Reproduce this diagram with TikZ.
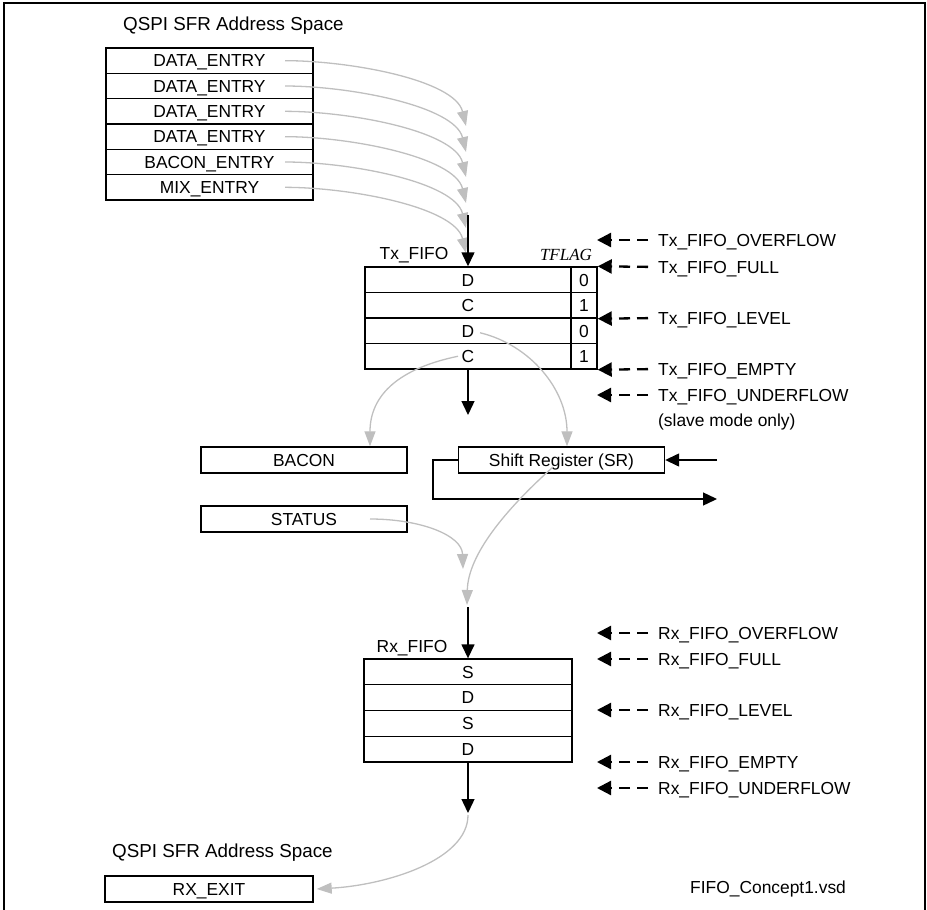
\documentclass[tikz,border=0pt]{standalone}
\usepackage{fontspec}
\setmainfont{Liberation Sans}
\newfontfamily\tflagfont{Liberation Serif}
\usetikzlibrary{arrows.meta,calc}
\definecolor{flowgray}{HTML}{BFBFBF}
\begin{document}
\begin{tikzpicture}[x=1pt,y=-1pt,
  lbl/.style={font=\fontsize{17.4}{20}\selectfont, inner sep=0pt, text height=12.5pt, text depth=0pt},
  ttl/.style={font=\fontsize{18.8}{22}\selectfont, inner sep=0pt, text height=13.5pt, text depth=0pt, anchor=west},
  cell/.style={draw, line width=1.4pt, inner sep=0pt, font=\fontsize{17.4}{20}\selectfont, text height=12.5pt, text depth=0pt},
  srow/.style={cell, minimum width=207pt, minimum height=25.33pt},
  trow/.style={cell, minimum width=206pt, minimum height=25.5pt},
  fcell/.style={cell, minimum width=26pt, minimum height=25.5pt},
  rrow/.style={cell, minimum width=208pt, minimum height=25.75pt},
  reg/.style={cell, minimum width=206pt, minimum height=26pt},
  gar/.style={draw=flowgray, line width=1.3pt, -{Triangle[length=15pt,width=11pt]}},
  bar/.style={draw=black, line width=1.4pt, -{Triangle[length=14pt,width=13pt]}},
  flg/.style={draw=black, line width=2.3pt, dash pattern=on 11pt off 7pt, shorten <=10pt, -{Triangle[length=14pt,width=14pt]}}
]
\useasboundingbox (0,0) rectangle (927,910);
% frame
\draw[line width=1.5pt] (4,910) -- (4,3) -- (925,3) -- (925,910);

% ---------- top address space ----------
\node[ttl] (qspitop) at (123,24) {QSPI SFR Address Space};
\node[srow] (d1) at (209.5,60.67) {DATA\_ENTRY};
\node[srow] (d2) at (209.5,86) {DATA\_ENTRY};
\node[srow] (d3) at (209.5,111.33) {DATA\_ENTRY};
\node[srow] (d4) at (209.5,136.67) {DATA\_ENTRY};
\node[srow] (d5) at (209.5,162) {BACON\_ENTRY};
\node[srow] (d6) at (209.5,187.33) {MIX\_ENTRY};

\coordinate (e1) at (466,126);
\coordinate (e2) at (466,152);
\coordinate (e3) at (466,177);
\coordinate (e4) at (466,203);
\coordinate (e5) at (466,228);
\coordinate (e6) at (466,253);
\foreach \r in {1,...,6}{
  \draw[gar] ($(d\r.center)+(75.5,0)$) .. controls +(65,0) and +(-11,-46) .. (e\r);
}

% ---------- Tx FIFO ----------
\coordinate (txin) at (468,215);
\node[trow] (tx1) at (468,279.75) {D};
\node[trow] (tx2) at (468,305.25) {C};
\node[trow] (tx3) at (468,330.75) {D};
\node[trow] (tx4) at (468,356.25) {C};
\node[fcell] (tf1) at (584,279.75) {0};
\node[fcell] (tf2) at (584,305.25) {1};
\node[fcell] (tf3) at (584,330.75) {0};
\node[fcell] (tf4) at (584,356.25) {1};
\node[lbl] (txlbl) at (414,253) {Tx\_FIFO};
\node[font=\tflagfont\itshape\fontsize{17}{20}\selectfont, inner sep=0pt, text height=11.5pt, text depth=0pt] (tflag) at (566,255) {TFLAG};
\draw[bar] (txin) -- (tx1.north);
\coordinate (txout) at (468,415);
\draw[bar] (tx4.south) -- (txout);

% Tx flags
\node[lbl, anchor=west] (tovf) at (658,240) {Tx\_FIFO\_OVERFLOW};
\node[lbl, anchor=west] (tful) at (658,267) {Tx\_FIFO\_FULL};
\node[lbl, anchor=west] (tlev) at (658,318) {Tx\_FIFO\_LEVEL};
\node[lbl, anchor=west] (temp) at (658,369) {Tx\_FIFO\_EMPTY};
\node[lbl, anchor=west] (tund) at (658,395) {Tx\_FIFO\_UNDERFLOW};
\node[lbl, anchor=west] (slave) at (658,420) {(slave mode only)};
\coordinate (tovfp) at (597,240);
\coordinate (tundp) at (597,395);
\draw[flg] (tovf.west) -- (tovfp);
\draw[flg] (tful.west) -- (tf1.north east);
\draw[flg] (tlev.west) -- (tf2.south east);
\draw[flg] (temp.west) -- (tf4.south east);
\draw[flg] (tund.west) -- (tundp);

% ---------- registers ----------
\node[reg] (bacon) at (304,460) {BACON};
\node[reg] (sr) at (561.5,460) {Shift Register (SR)};
\node[reg] (status) at (304,519) {STATUS};

\draw[gar] ($(tx4.center)+(-10,0)$) .. controls +(-58,12) and +(0,-52) .. ($(bacon.north)+(66,0)$);
\draw[gar] ($(tx3.center)+(12,2)$) .. controls +(50,12) and +(0,-57) .. ($(sr.north)+(5.5,0)$);

\coordinate (srin) at (717,460);
\coordinate (srloop) at (433,460);
\coordinate (srout) at (717,499);
\draw[bar] (srin) -- (sr.east);
\draw[bar] (sr.west) -- (srloop) |- (srout);

% ---------- Rx FIFO ----------
\coordinate (rxa) at (463,569);
\coordinate (rxb) at (467,605);
\draw[gar] ($(status.center)+(66,0)$) .. controls +(50,0) and +(-1,-34) .. (rxa);
\draw[gar] ($(sr.center)+(-8.5,7)$) .. controls +(-48,43) and +(1,-50) .. (rxb);

\coordinate (rxin) at (468,607);
\node[rrow] (rx1) at (468,671.9) {S};
\node[rrow] (rx2) at (468,697.6) {D};
\node[rrow] (rx3) at (468,723.4) {S};
\node[rrow] (rx4) at (468,749.1) {D};
\node[lbl] (rxlbl) at (412,646) {Rx\_FIFO};
\draw[bar] (rxin) -- (rx1.north);
\coordinate (rxout) at (468,813);
\draw[bar] (rx4.south) -- (rxout);

% Rx flags
\node[lbl, anchor=west] (rovf) at (658,633) {Rx\_FIFO\_OVERFLOW};
\node[lbl, anchor=west] (rful) at (658,659) {Rx\_FIFO\_FULL};
\node[lbl, anchor=west] (rlev) at (658,710) {Rx\_FIFO\_LEVEL};
\node[lbl, anchor=west] (remp) at (658,762) {Rx\_FIFO\_EMPTY};
\node[lbl, anchor=west] (rund) at (658,788) {Rx\_FIFO\_UNDERFLOW};
\coordinate (rovfp) at (597,633);
\coordinate (rfulp) at (597,659);
\coordinate (rlevp) at (597,710);
\coordinate (rempp) at (597,762);
\coordinate (rundp) at (597,788);
\draw[flg] (rovf.west) -- (rovfp);
\draw[flg] (rful.west) -- (rfulp);
\draw[flg] (rlev.west) -- (rlevp);
\draw[flg] (remp.west) -- (rempp);
\draw[flg] (rund.west) -- (rundp);

% ---------- bottom address space ----------
\node[ttl] (qspibot) at (112,851) {QSPI SFR Address Space};
\node[srow, minimum width=208pt, minimum height=26pt] (rxexit) at (209,889) {RX\_EXIT};
\draw[gar] ($(rxout)+(0,2)$) .. controls +(0,45) and +(70,-4) .. ($(rxexit.east)+(3,0)$);

\node[lbl, anchor=west] (fname) at (690,887) {FIFO\_Concept1.vsd};
\end{tikzpicture}
\end{document}
